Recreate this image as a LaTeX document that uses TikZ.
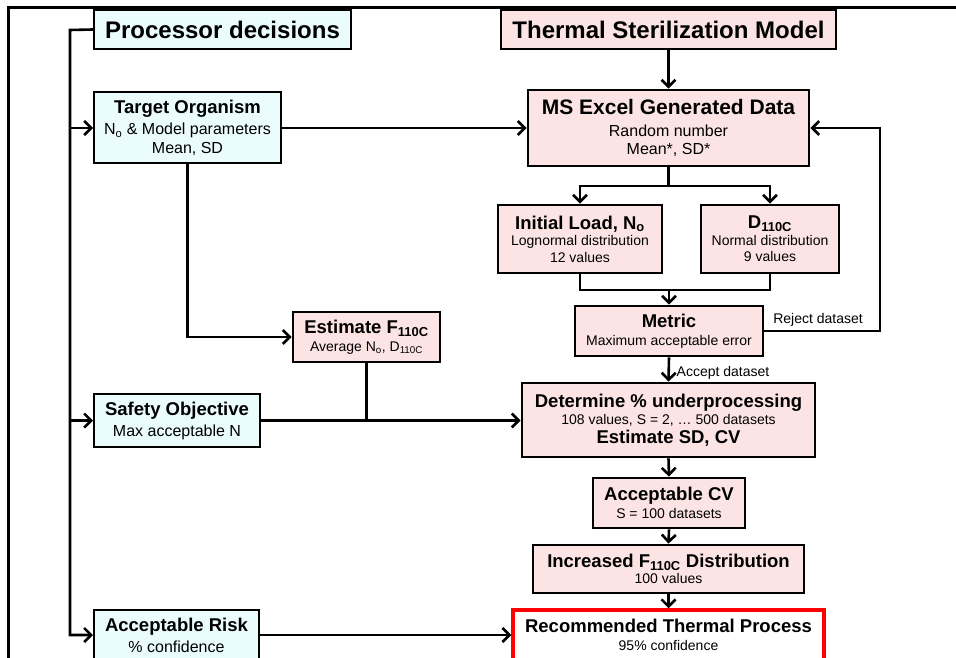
\documentclass[tikz,border=0pt]{standalone}
\usepackage{fontspec}
\setmainfont{Liberation Sans}
\usepackage{xcolor}
\usetikzlibrary{arrows.meta}
\definecolor{cyanbox}{HTML}{EBFCFD}
\definecolor{pinkbox}{HTML}{FCE4E4}
\definecolor{redline}{HTML}{FF0000}
\newcommand{\bigt}{\bfseries\fontsize{24}{28}\selectfont}
\newcommand{\ttl}{\bfseries\fontsize{18.5}{21}\selectfont}
\newcommand{\mdm}{\fontsize{16}{18}\selectfont}
\newcommand{\sml}{\fontsize{14}{16}\selectfont}

\begin{document}
\begin{tikzpicture}[x=1pt, y=-1pt,
    decide/.style={draw, line width=2pt, fill=cyanbox, align=center, inner sep=0pt, font=\fontsize{16}{19}\selectfont},
    model/.style={draw, line width=2.8pt, fill=pinkbox, align=center, inner sep=0pt, font=\fontsize{14}{16.5}\selectfont},
    result/.style={draw=redline, line width=3.5pt, fill=white, align=center, inner sep=0pt, font=\fontsize{14}{16.5}\selectfont},
    arr/.style={line width=2.6pt, -{Straight Barb[length=7pt,width=14pt]}},
    wire/.style={line width=2.6pt},
    lbl/.style={inner sep=0pt, font=\sml}]
    \clip (0,0) rectangle (956,658);
    \useasboundingbox (0,0) rectangle (956,658);
    \draw[line width=3pt] (8,658) -- (8,8) -- (956,8);

    % processor side
    \node[decide, minimum width=257, minimum height=39] (procdec) at (222.5,29.5) {\bigt Processor decisions};
    \node[decide, minimum width=187, minimum height=71] (target) at (187.5,128) {{\ttl Target Organism}\\[2pt]{\mdm N\textsubscript{o} \& Model parameters}\\{\mdm Mean, SD}};
    \node[decide, minimum width=166, minimum height=53] (safety) at (177,420.5) {{\ttl Safety Objective}\\[2pt]{\mdm Max acceptable N}};
    \node[decide, minimum width=165, minimum height=50] (risk) at (176.5,635) {{\ttl Acceptable Risk}\\[2pt]{\mdm \% confidence}};
    \node[model, minimum width=147, minimum height=50] (estF) at (366.5,337) {{\ttl Estimate F\textsubscript{110C}}\\[1pt]{\sml Average N\textsubscript{o}, D\textsubscript{110C}}};

    % model side
    \node[model, minimum width=335, minimum height=39] (tsm) at (668.5,29.5) {\bigt Thermal Sterilization Model};
    \node[model, font=\fontsize{16}{18.5}\selectfont, minimum width=281, minimum height=76] (excel) at (668.5,128) {{\bfseries\fontsize{21}{24}\selectfont MS Excel Generated Data}\\[3pt]{\mdm Random number}\\{\mdm Mean*, SD*}};
    \node[model, minimum width=164, minimum height=68] (load) at (580,239) {{\ttl Initial Load, N\textsubscript{o}}\\{\sml Lognormal distribution}\\{\sml 12 values}};
    \node[model, minimum width=138, minimum height=68] (dval) at (770,239) {{\ttl D\textsubscript{110C}}\\{\sml Normal distribution}\\{\sml 9 values}};
    \node[model, minimum width=188, minimum height=50] (metric) at (669,331) {{\ttl Metric}\\[2pt]{\sml Maximum acceptable error}};
    \node[model, minimum width=293, minimum height=74] (determine) at (668.5,420) {{\ttl Determine \% underprocessing}\\[1pt]{\sml 108 values, S = 2, … 500 datasets}\\[2pt]{\ttl Estimate SD, CV}};
    \node[model, minimum width=152, minimum height=50] (cv) at (669,503) {{\ttl Acceptable CV}\\[2pt]{\sml S = 100 datasets}};
    \node[model, minimum width=271, minimum height=48] (incF) at (668.5,569) {{\ttl Increased F\textsubscript{110C} Distribution}\\{\sml 100 values}};
    \node[result, minimum width=311, minimum height=50] (rec) at (668.5,635) {{\ttl Recommended Thermal Process}\\[2pt]{\sml 95\% confidence}};

    \coordinate (spine) at (70,30);
    \coordinate (split) at (668.5,186);
    \coordinate (merge) at (669,290);
    \coordinate (rejc) at (880,331);

    % processor connectors
    \draw[arr] (procdec.west) -- (spine) |- (risk.west);
    \draw[arr] (spine) |- (target.west);
    \draw[arr] (spine) |- (safety.west);
    \draw[arr] (target.east) -- (target.east -| excel.west);
    \draw[arr] (target.south) |- (estF.west);
    \draw[wire] (estF.south) -- (estF.south |- safety.east);
    \draw[arr] (safety.east) -- (safety.east -| determine.west);
    \draw[arr] (risk.east) -- (risk.east -| rec.west);

    % model connectors
    \draw[arr] (tsm.south) -- (excel.north);
    \draw[wire] (excel.south) -- (split);
    \draw[arr] (split) -| (load.north);
    \draw[arr] (split) -| (dval.north);
    \draw[wire] (load.south) |- (merge) -| (dval.south);
    \draw[arr] (merge) -- (metric.north);
    \draw[arr] (metric.east) -- (rejc) |- (excel.east);
    \node[lbl] (rejlbl) at (818,320) {Reject dataset};
    \draw[arr] (metric.south) -- (determine.north);
    \node[lbl] (acclbl) at (723,373) {Accept dataset};
    \draw[arr] (determine.south) -- (cv.north);
    \draw[arr] (cv.south) -- (incF.north);
    \draw[arr] (incF.south) -- (rec.north);
\end{tikzpicture}
\end{document}
